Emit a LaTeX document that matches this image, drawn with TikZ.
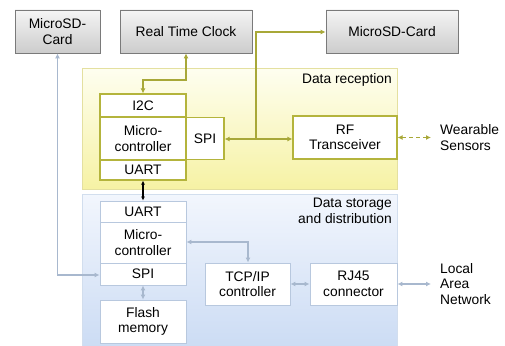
\documentclass[tikz,border=0pt]{standalone}
\usepackage{fontspec}
\setmainfont{Liberation Sans}
\usetikzlibrary{arrows.meta}
\definecolor{olivel}{HTML}{A8A838}
\definecolor{olived}{HTML}{B4B43C}
\definecolor{bluel}{HTML}{B8C8DE}
\definecolor{bluea}{HTML}{A8B8CE}
\definecolor{greyb}{HTML}{7A7A7A}
\definecolor{ytop}{HTML}{FEFEF0}
\definecolor{ybot}{HTML}{F6F2A4}
\definecolor{yedge}{HTML}{E4E0A0}
\definecolor{btop}{HTML}{F2F6FD}
\definecolor{bbot}{HTML}{CCDCF4}
\definecolor{bedge}{HTML}{D2DEEE}
\tikzset{
  every node/.style={font=\fontsize{13.8}{15.5}\selectfont, align=center, inner sep=0pt},
  greybox/.style={draw=greyb, line width=0.8pt, top color=white!96!black, bottom color=black!20, minimum height=43pt},
  ybox/.style={draw=olived, fill=white, line width=1.2pt, minimum width=86pt},
  bbox/.style={draw=bluel, fill=white, line width=0.9pt, minimum width=86pt},
  yarr/.style={draw=olivel, line width=1.4pt, {Latex[length=5pt,width=5pt]}-{Latex[length=5pt,width=5pt]}},
  barr/.style={draw=bluea, line width=1.6pt, {Latex[length=5pt,width=5pt]}-{Latex[length=5pt,width=5pt]}},
}
\begin{document}
\begin{tikzpicture}[x=1pt,y=-1pt]
\useasboundingbox (0,0) rectangle (505,345);
% regions
\shade[top color=ytop, bottom color=ybot, draw=yedge, line width=0.8pt] (82,68) rectangle (397,189);
\shade[top color=btop, bottom color=bbot, draw=bedge, line width=0.8pt] (82,194) rectangle (397,347);
\node[anchor=north east] (lrec) at (392,73) {Data reception};
\node[anchor=north east, align=right] (lsto) at (392,198) {Data storage\\and distribution};
% top grey boxes
\node[greybox, minimum width=85pt] (sd1) at (57.5,31.5) {MicroSD-\\Card};
\node[greybox, minimum width=132pt] (rtc) at (186,31.5) {Real Time Clock};
\node[greybox, minimum width=132pt] (sd2) at (392,31.5) {MicroSD-Card};
% yellow inner
\node[ybox, minimum height=23pt] (i2c) at (143,105.5) {I2C};
\node[ybox, minimum height=43pt] (mcu1) at (143,138.5) {Micro-\\controller};
\node[ybox, minimum height=20pt] (uart1) at (143,170) {UART};
\node[ybox, minimum width=38pt, minimum height=42pt] (spi1) at (205,138.5) {SPI};
\node[ybox, minimum width=104pt, minimum height=43pt] (rf) at (345,137.5) {RF\\Transceiver};
\node[anchor=west, align=left] (wear) at (440,137.5) {Wearable\\Sensors};
% blue inner
\node[bbox, minimum height=21pt] (uart2) at (143,211.5) {UART};
\node[bbox, minimum height=41pt] (mcu2) at (143,242.5) {Micro-\\controller};
\node[bbox, minimum height=22pt] (spi2) at (143,274) {SPI};
\node[bbox, minimum height=43pt] (flash) at (143,321.5) {Flash\\memory};
\node[bbox, minimum width=85pt, minimum height=42pt] (tcp) at (247.5,284) {TCP/IP\\controller};
\node[bbox, minimum width=87pt, minimum height=42pt] (rj) at (353.5,284) {RJ45\\connector};
\node[anchor=west, align=left] (lan) at (440,284) {Local\\Area\\Network};
% coordinates
\coordinate (rtcm) at (186,80);
\coordinate (i2cm) at (143,80);
\coordinate (br) at (256,139);
\coordinate (brt) at (256,32);
\coordinate (wend) at (431,137.5);
\coordinate (lend) at (431,284);
\coordinate (mcuc) at (248,242);
\coordinate (sdc) at (57.5,275);
% yellow connectors
\draw[yarr] (rtc.south) -- (rtcm) -- (i2cm) -- (i2c.north);
\draw[yarr] (spi1.east |- br) -- (rf.west |- br);
\draw[draw=olivel, line width=1.4pt, -{Latex[length=5pt,width=5pt]}] (br) -- (brt) -- (sd2.west |- brt);
\draw[yarr, dash pattern=on 4pt off 3pt] (rf.east) -- (wend);
% uart link
\draw[line width=1.2pt, {Latex[length=4pt,width=4pt]}-{Latex[length=4pt,width=4pt]}] (uart1.south) -- (uart2.north);
% blue connectors
\draw[barr] (mcu2.east |- mcuc) -- (mcuc) -- (tcp.north -| mcuc);
\draw[barr] (tcp.east) -- (rj.west);
\draw[barr] (rj.east) -- (lend);
\draw[barr] (spi2.south) -- (flash.north);
\draw[barr] (sd1.south) -- (sdc) -- (spi2.west |- sdc);
\end{tikzpicture}
\end{document}
